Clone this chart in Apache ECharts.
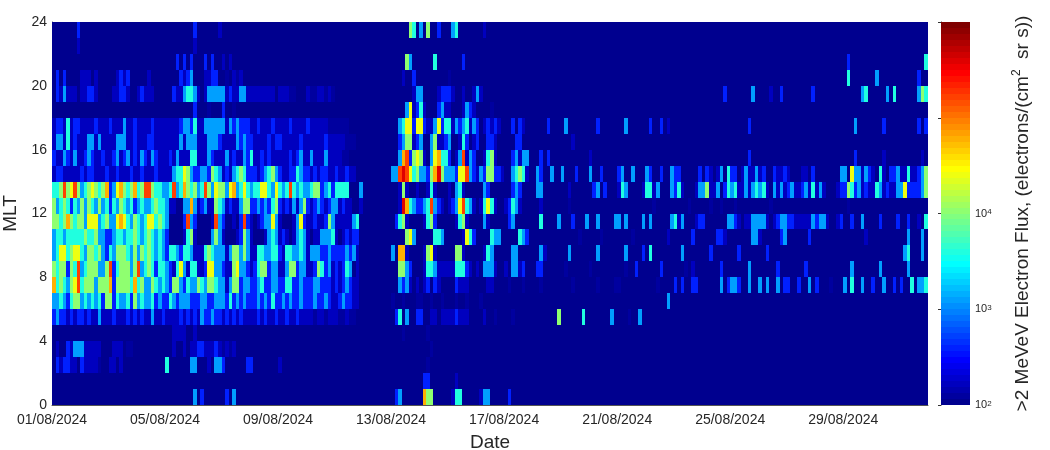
<!DOCTYPE html>
<html><head><meta charset="utf-8"><style>html,body{margin:0;padding:0;background:#fff}#c{width:1050px;height:450px}</style>
<script src="https://cdn.jsdelivr.net/npm/echarts@6/dist/echarts.min.js"></script></head>
<body><div id="c"></div><script>
const dateLabels=["01/08/2024","05/08/2024","09/08/2024","13/08/2024","17/08/2024","21/08/2024","25/08/2024","29/08/2024"];
const yTicks=[0,4,8,12,16,20,24];
// Flux (electrons/(cm2 sr s)) for each level character.
const fluxLevels={"0":100,"a":125,"1":160,"2":400,"3":1300,"4":4000,"5":10000,"6":25000,"7":63000,"8":160000,"9":400000};
// Each row is one MLT hour; one string per day (31 days), 8 three-hour cells per day. "-" = all-low day.
const mlt00=["-","-","-","-","-","30200000","02030000","-","-","-","-","-","02300000","07550000","01440000","01330000","02000000"];
const mlt01=["-","-","-","-","-","-","-","-","-","-","-","-","-","02200000","00100000"];
const mlt02=["02122110","21111a00","11010000","-","40000003","30001033","20000002","20000000","10000000","-","-","-","-","00a00000"];
const mlt03=["01002133","31111100","01110aa0","-","00100101","12211121","a1a10000","-","-","-","-","-","-","000a0000"];
const mlt04=["-","-","-","-","00111100","10000000","-","-","-","-","-","-","000a0000","00a00000"];
const mlt05=["23221212","21211311","12111212","12113112","11112121","21322322","12121211","11212112","11211211","11a11a11","1aa1aa00","-","02403002","20011011","11211100","00100a00","00a00000","00000005","00000040","00000030","000a0030"];
const mlt06=["33432455","34343425","52433425","34334232","24323332","22332233","32423232","22323242","23232232","22322321","12322110","-","a00a000a","a00a00a0","00a00a00","0a000000","-","-","-","-","-","00000030"];
const mlt07=["74543568","45553555","72555547","45335434","32553243","35435543","31355233","22342233","22442232","22332221","21232110","-","00323101","01202100","00211100","00011000","0a000a00","00a00000","000a0000","00a0000a","a0000000","000a0000","20200220","00000302","33200300","30300302","20020030","2000a000","30400300","20030020","20040334"];
const mlt08=["54552548","34555335","82455535","83454244","32146314","41126633","21156332","12455233","11355233","11254231","21243010","-","00553200","01443111","11444210","10333100","10331200","02200000","0a000000","a0000000","00a00200","00002000","000a0100","00000200","00000300","00000200","00000200","-","00300000","00300000","00300000"];
const mlt09=["34664566","43554532","43555435","35454343","24432443","11145433","31355353","11443344","21443343","13332232","22232310","-","30771000","01561000","00551000","00143000","00330000","00310000","00300000","00300000","00300002","04000000","00300000","00200000","00200000","00200000","-","-","-","00000000","03400030"];
const mlt10=["34434444","45445332","23443445","43454343","20000145","10000353","10001253","10001343","12101343","10113334","10121220","-","00005630","00004430","00001642","00004330","00004320","-","00000a00","000a0000","0000a000","00000010","00000200","00002210","00000033","10000023","00000020","-","00000010","-","00300030"];
const mlt11=["55457545","53666345","33676435","43466454","30000283","20000183","20010282","10123363","10001362","11211253","11111340","-","02451000","01452000","00145100","00310000","02300000","00400003","00020003","00300003","30300003","03000003","41300012","20000003","32101133","33101233","22111113","23310012","00200300","00200002","00200104"];
const mlt12=["53454243","53543534","24354342","34334544","31100337","31231154","31211355","22323245","21213135","21232123","31211001","-","00197432","23483210","12368431","01464100","12431000","00100000","00a00000","-","-","00a00000","0000a000","00a00a00","0a000000","000a0000","-","-","0a000000","-","-"];
const mlt13=["44585685","34565457","23675457","45885443","34834754","53485365","53673464","34466436","43484343","34552342","44440003","-","00151001","00141000","10341000","00320000","00232000","03300000","00100000","02302000","14300001","44130003","24100013","35113024","34113134","34103131","23112314","13100012","25423121","14312113","36222235"];
const mlt14=["12211111","21221112","11211121","12111211","11344653","22332543","12134542","22123453","21122432","21212211","21121100","-","33898645","33257953","33266832","13255221","00345410","03200300","30002000","30020000","23003000","32002003","22000002","02101304","22013113","12002112","10001102","00000003","30633132","10410223","11411235"];
const mlt15=["21132131","12321121","12312312","13213211","12131114","41113211","13121132","41121211","11121231","13111311","11aa0000","-","00378256","51036744","20138132","00145100","00231330","00202000","-","10000000","-","-","-","-","00000200","-","-","-","00020000","00010000","00000010"];
const mlt16=["13314121","11331311","11333112","11122111","11113133","31113332","11113232","21111212","21111121","11111211","111aaa00","-","00235512","30035112","30014201","20022100","00022000","-","00010000","-","-","-","-","-","-","-","-","-","-","-","-"];
const mlt17=["12214122","11112111","21113112","11112111","11112332","41133333","31323222","11211121","11121111","211111aa","aaaa0000","-","00346626","62113624","41323413","20121210","00202100","00002000","03000000","00200000","00300000","02002010","-","-","00000200","-","-","-","00030000","00020000","00000202"];
const mlt18=["-","-","-","-","-","2000a000","200a0000","-","-","-","-","-","00003612","41000231","10001321","0000a000"];
const mlt19=["02131110","11221000","01122100","12111000","00211344","31013333","31211331","11111110","111aa000","1aa11a1a","-","-","00000013","30000122","21001001","31000000","-","-","-","-","-","-","-","00000020","00000030","00010020","00000002","-","00000340","00003040","00000354"];
const mlt20=["02020000","11101000","00121200","00010000","00002123","00011220","0a01a100","-","-","-","-","-","00010020","00000000","a0000000","-","-","-","-","-","-","-","-","-","-","-","-","-","04000000","03000000","00000200"];
const mlt21=["-","-","-","-","00020202","00020200","10100000","-","-","-","-","-","00005300","00004000","00002000","-","-","-","-","-","-","-","-","-","-","-","-","-","02000000","-","00000004"];
const mlt22=["00000001","-","-","-","-","10000000"];
const mlt23=["00000002","-","-","-","-","20000001","-","-","-","-","-","-","00000540","30500200","03400000","00100000"];
const rows=[mlt00,mlt01,mlt02,mlt03,mlt04,mlt05,mlt06,mlt07,mlt08,mlt09,mlt10,mlt11,mlt12,mlt13,mlt14,mlt15,mlt16,mlt17,mlt18,mlt19,mlt20,mlt21,mlt22,mlt23];
const DAYS=31, CELLS=8, LOG_MIN=2, LOG_MAX=6;

function jet(t){ // MATLAB jet with 64 discrete steps
  const i=Math.min(63,Math.floor(t*64)), v=(i+1)/64;
  const c=(x)=>Math.round(255*Math.max(0,Math.min(1,x)));
  const f=(o)=>1.5-Math.abs(4*v-o);
  return `rgb(${c(f(3))},${c(f(2))},${c(f(1))})`;
}
const cells=[];
rows.forEach((days,m)=>{
  for(let d=0;d<DAYS;d++){
    const s=days[d]||"-";
    for(let k=0;k<CELLS;k++){
      const ch=s==="-"?"0":(s[k]||"0");
      cells.push([d+k/CELLS,m,fluxLevels[ch]]);
    }
  }
});
const barSteps=[];
for(let i=0;i<64;i++)barSteps.push([LOG_MIN+(LOG_MAX-LOG_MIN)*i/64,i/64+0.001]);

const txt='#262626', fam='"Liberation Sans",Arial,sans-serif';
const chart=echarts.init(document.getElementById('c'),null,{renderer:'canvas'});
chart.setOption({
  animation:false,
  textStyle:{fontFamily:fam},
  grid:[{left:52,top:22,width:876,height:383,show:true,backgroundColor:'#00008f',borderWidth:0,outerBoundsMode:'none',containLabel:false},
        {left:941,top:22,width:29,height:383,show:false,outerBoundsMode:'none',containLabel:false}],
  xAxis:[{type:'value',gridIndex:0,min:0,max:DAYS,interval:4,name:'Date',nameLocation:'middle',nameGap:28,
          nameTextStyle:{fontSize:19,color:txt,fontFamily:fam},
          axisLine:{show:true,lineStyle:{color:'#555',width:1}},axisTick:{show:false},splitLine:{show:false},
          axisLabel:{color:txt,fontSize:14,margin:8,fontFamily:fam,showMaxLabel:false,formatter:v=>dateLabels[v/4]||''}},
         {type:'value',gridIndex:1,min:0,max:1,show:false}],
  yAxis:[{type:'value',gridIndex:0,min:0,max:24,interval:4,name:'MLT',nameLocation:'middle',nameGap:16,
          nameTextStyle:{fontSize:19,color:txt,fontFamily:fam},
          axisLine:{show:true,lineStyle:{color:'#555',width:1}},axisTick:{show:false},splitLine:{show:false},
          axisLabel:{color:txt,fontSize:14,margin:5,fontFamily:fam,formatter:v=>yTicks.includes(v)?String(v):''}},
         {type:'value',gridIndex:1,min:LOG_MIN,max:LOG_MAX,interval:1,position:'right',
          name:'{a|>2 MeVeV Electron Flux, (electrons/(cm}{s|2}{a|  sr s))}',nameLocation:'middle',nameRotate:90,nameGap:41,
          nameTextStyle:{rich:{a:{fontSize:19,color:txt,fontFamily:fam},s:{fontSize:12,color:txt,fontFamily:fam,verticalAlign:'top',lineHeight:24}}},
          axisLine:{show:true,lineStyle:{color:'#333',width:1}},axisTick:{show:true,inside:true,length:3,lineStyle:{color:'#333'}},splitLine:{show:false},
          axisLabel:{margin:5,fontFamily:fam,formatter:v=>v<=4?`{b|10}{e|${v}}`:'',
            rich:{b:{fontSize:11,color:txt,fontFamily:fam},e:{fontSize:8,color:txt,fontFamily:fam,verticalAlign:'top',padding:[0,0,3,0]}}}}],
  series:[
    {type:'custom',xAxisIndex:0,yAxisIndex:0,clip:true,data:cells,encode:{x:0,y:1},silent:true,
     renderItem:(p,api)=>{
       const x=api.value(0),y=api.value(1),f=api.value(2);
       const a=api.coord([x,y+1]),b=api.coord([x+1/CELLS,y]);
       const x0=Math.round(a[0]),x1=Math.round(b[0]),y0=Math.round(a[1]),y1=Math.round(b[1]);
       return {type:'rect',shape:{x:x0,y:y0,width:x1-x0,height:y1-y0},
               style:{fill:jet((Math.log10(f)-LOG_MIN)/(LOG_MAX-LOG_MIN))}};
     }},
    {type:'custom',xAxisIndex:1,yAxisIndex:1,data:barSteps,encode:{y:0},silent:true,
     renderItem:(p,api)=>{
       const v=api.value(0);
       const a=api.coord([0,v+(LOG_MAX-LOG_MIN)/64]),b=api.coord([1,v]);
       const y0=Math.round(a[1]),y1=Math.round(b[1]);
       return {type:'rect',shape:{x:a[0],y:y0,width:b[0]-a[0],height:y1-y0},style:{fill:jet(api.value(1))}};
     }}
  ]
});
</script></body></html>
